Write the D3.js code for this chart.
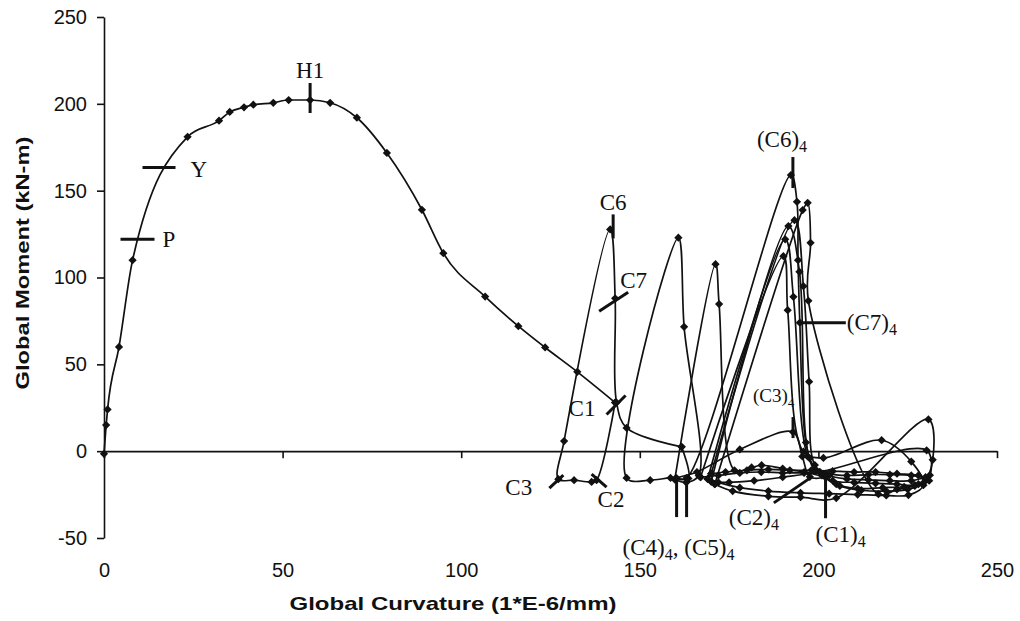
<!DOCTYPE html>
<meta charset="utf-8">
<html>
<head>
<script src="https://d3js.org/d3.v7.min.js"></script>
<style>
body { margin: 0; background: #fff; }
svg { display: block; }
.tick text { font-family: "Liberation Sans", Arial, sans-serif; font-size: 20px; fill: #111; }
.tick line, .domain { stroke: #111; stroke-width: 1.6; }
.title { font-family: "Liberation Sans", Arial, sans-serif; font-weight: bold; font-size: 19px; fill: #111; }
.lbl { font-family: "Liberation Serif", "Times New Roman", serif; font-size: 23px; fill: #111; }
.curve { fill: none; stroke: #111; stroke-width: 1.7; }
.mk { stroke: #111; stroke-width: 3; }
</style>
</head>
<body>
<svg width="1020" height="621"></svg>
<script>

// monotonic push up to C1, then the loading cycles, [curvature, moment]
var mono = [[0,-1.5],[0.6,15],[1.0,24],[4.2,60],[8,110],[23.4,181],[32.2,190.3],[35.2,195.3],
  [39.2,198],[41.8,199.5],[47.4,200.6],[51.7,202.2],[57.7,202.2],[63.3,200.6],[70.8,192],
  [79.2,171.7],[89,139],[95,114],[106.7,89],[116,72],[123.5,59.7],[132.5,45.7],[143.1,28]];

var cycle1 = [[143.1,28],[137.9,-16.7],[136.5,-17.7],[131.6,-16.7],[127.2,-16.1],[128.8,5.8],
  [141.7,127.7],[143.1,88],[143.5,28],[146.3,13.4],[161.7,2.5]];

var cycle2 = [[161.7,2.5],[163.6,-15.7],[158.6,-15.4],[152.9,-16.7],[146.3,-15.4],[160.8,122.9],
  [162.4,71.6],[166.5,-14],[163,-18],[159.8,-16.2]];

var cycle3 = [[159.8,-16.2],[171.2,107.7],[172.2,84.7],[176.5,-11],[181.3,-9.4],[184.1,-8.1],
  [190,-10],[196,-12],[202,-15]];

var cycle4 = [[202,-15],[197.6,-14.8],[195.5,-3],[192.9,11],[178,1],[166,-12],[160.3,-15.5],
  [163.1,-15.5],[192.3,159],[194,143.6],[194.3,110],[194.8,74],[196.5,5],[199,-11],[204,-17],
  [210,-18],[216,-18.5],[222,-19],[227,-19.5],[230,-16],[226,-14],[220,-13.5],[214,-13.5],
  [208,-14],[202,-13],[196,-12.5],[190,-12.5],[184,-12],[178,-12.5],[172,-14],[167,-15]];

var cycle5 = [[167,-15],[190.2,112.3],[191.4,81.2],[195.8,-0.3],[201.4,-3.9],[217.7,6.3],
  [226,-6],[229.4,-19.6],[225.2,-25.3],[219,-25.5],[211,-25],[203,-24.5],[195,-24],[186,-23],
  [178,-21],[172,-18],[169,-16]];

var cycle6 = [[169,-16],[190.7,122],[193,88.9],[197,-3],[200.4,-12],[205,-19],[211,-21.5],
  [218,-21],[224,-20.5],[228,-19],[231.2,-13.8],[230.3,0.5],[200.4,-12],[190,-15],[182,-17],
  [175,-18],[170,-17.5]];

var cycle7 = [[170,-17.5],[191.6,129.6],[194.7,103.3],[197.5,-4],[201,-14],[206,-20],[212,-22.5],
  [219,-23],[225,-22],[229.5,-18],[232,-5],[230.8,18.3],[205,-27],[195,-26.5],[186,-26],
  [176,-23],[171,-19]];

var cycle8 = [[171,-19],[195.6,138.8],[197,143],[197.8,120],[197.2,86.6],[216.8,-24.8],[222,-22],
  [227,-20],[231,-17],[228,-14],[222,-13],[216,-12],[210,-12],[204,-11.5],[198,-11],[192,-11],
  [186,-10.5],[180,-11],[174,-12],[170,-13]];

var cycle9 = [[170,-13],[193.3,133],[195.8,95],[197.4,40],[199,-8],[203,-14],[208,-16],
  [214,-16.5],[220,-17],[226,-17],[230,-15]];

var cycles = [cycle1, cycle2, cycle3, cycle4, cycle5, cycle6, cycle7, cycle8, cycle9];

var xTicks = [0, 50, 100, 150, 200, 250];
var yTicks = [-50, 0, 50, 100, 150, 200, 250];

// labelled stages: name, subscript, point on the curve
var stages = [
  {name: "H1", sub: "", at: [57.7, 202.2]},
  {name: "Y", sub: "", at: [14.7, 163.4]},
  {name: "P", sub: "", at: [9.1, 122]},
  {name: "C6", sub: "", at: [141.7, 127.7]},
  {name: "C7", sub: "", at: [143.1, 88]},
  {name: "C1", sub: "", at: [143.5, 28]},
  {name: "C3", sub: "", at: [127.2, -16.1]},
  {name: "C2", sub: "", at: [137.9, -16.7]},
  {name: "(C6)", sub: "4", at: [192.3, 159]},
  {name: "(C7)", sub: "4", at: [194.8, 74]},
  {name: "(C3)", sub: "4", at: [192.9, 11]},
  {name: "(C2)", sub: "4", at: [197.6, -14.8]},
  {name: "(C1)", sub: "4", at: [202, -15]},
  {name: "(C4)", sub: "4", at: [160.3, -15.5]},
  {name: "(C5)", sub: "4", at: [163.1, -15.5]}
];

var svg = d3.select("svg");

var x = d3.scaleLinear().domain([0, 250]).range([104, 997]);
var y = d3.scaleLinear().domain([-50, 250]).range([538, 17]);

// y axis
svg.append("g")
    .attr("transform", "translate(" + x(0) + ",0)")
    .call(d3.axisLeft(y).tickValues(yTicks).tickSize(7).tickSizeOuter(0).tickPadding(10)
      .tickFormat(function(d) { return String(d); }));

// x axis line sits on zero moment
svg.append("g")
    .attr("transform", "translate(0," + y(0) + ")")
    .call(d3.axisBottom(x).tickValues(xTicks).tickSize(7).tickSizeOuter(0).tickFormat(""));

// x tick labels at the bottom
var xl = svg.append("g")
    .attr("transform", "translate(0," + y(-50) + ")")
    .call(d3.axisBottom(x).tickValues(xTicks).tickSize(0).tickPadding(25)
      .tickFormat(function(d) { return String(d); }));
xl.select(".domain").remove();

svg.append("text").attr("class", "title")
    .attr("x", 453).attr("y", 610)
    .attr("text-anchor", "middle")
    .attr("textLength", 327).attr("lengthAdjust", "spacingAndGlyphs")
    .text("Global Curvature (1*E-6/mm)");

svg.append("text").attr("class", "title")
    .attr("transform", "translate(29,263) rotate(-90)")
    .attr("text-anchor", "middle")
    .attr("textLength", 253).attr("lengthAdjust", "spacingAndGlyphs")
    .text("Global Moment (kN-m)");

// curves
var smooth = d3.line().x(function(d) { return x(d[0]); }).y(function(d) { return y(d[1]); })
    .curve(d3.curveCatmullRom.alpha(0.5));
var monoLine = d3.line().x(function(d) { return x(d[0]); }).y(function(d) { return y(d[1]); })
    .curve(d3.curveMonotoneX);

svg.append("path").attr("class", "curve").attr("d", monoLine(mono));
svg.selectAll("path.cyc")
    .data(cycles)
  .enter().append("path")
    .attr("class", "curve cyc")
    .attr("d", smooth);

var allPts = mono.concat.apply(mono, cycles);
var diamond = d3.symbol().type(d3.symbolSquare).size(34);
svg.selectAll("path.pt")
    .data(allPts)
  .enter().append("path")
    .attr("class", "pt")
    .attr("d", diamond)
    .attr("fill", "#111")
    .attr("transform", function(d) { return "translate(" + x(d[0]) + "," + y(d[1]) + ") rotate(45)"; });

// stage markers: tick line offsets and label placement, in pixels from the point
var layout = {
  "H1":   {line: [0,-17,0,13],  lx: 0,   ly: -22, anchor: "middle"},
  "Y":    {line: [-14,0,19,0],  lx: 34,  ly: 10},
  "P":    {line: [-16,0,18,0],  lx: 26,  ly: 8},
  "C6":   {line: [3,-15,3,9],   lx: 3,   ly: -19, anchor: "middle"},
  "C7":   {line: [-16,13,13,-6],lx: 5,   ly: -10},
  "C1":   {line: [-10,12,9,-7], lx: -48, ly: 13},
  "C3":   {line: [-9,9,5,-4],   lx: -53, ly: 16},
  "C2":   {line: [-5,-6,10,7],  lx: 1,   ly: 27},
  "(C6)": {line: [2,-18,2,13],  lx: -34, ly: -28},
  "(C7)": {line: [0,0,46,0],    lx: 47,  ly: 7},
  "(C3)": {line: [0,-15,0,6],   lx: -40, ly: -30, size: 19},
  "(C2)": {line: [2,0,-36,26],  lx: -81, ly: 48},
  "(C1)": {line: [0,0,0,41],    lx: -10, ly: 65},
  "(C4)": {line: [0,0,0,39],    lx: -54, ly: 77, tail: ", (C5)"},
  "(C5)": {line: [0,0,0,39]}
};

stages.forEach(function(s) {
  var L = layout[s.name], px = x(s.at[0]), py = y(s.at[1]);
  svg.append("line").attr("class", "mk")
      .attr("x1", px + L.line[0]).attr("y1", py + L.line[1])
      .attr("x2", px + L.line[2]).attr("y2", py + L.line[3]);
  if (L.lx === undefined) return;
  var fs = L.size || 23;
  var t = svg.append("text").attr("class", "lbl")
      .style("font-size", fs + "px")
      .attr("x", px + L.lx).attr("y", py + L.ly)
      .attr("text-anchor", L.anchor || "start");
  t.append("tspan").text(s.name);
  if (s.sub) {
    t.append("tspan").attr("dy", 5).style("font-size", Math.round(fs * 0.7) + "px").text(s.sub);
    if (L.tail) {
      t.append("tspan").attr("dy", -5).text(L.tail);
      t.append("tspan").attr("dy", 5).style("font-size", Math.round(fs * 0.7) + "px").text(s.sub);
    }
  }
});

</script>
</body>
</html>
